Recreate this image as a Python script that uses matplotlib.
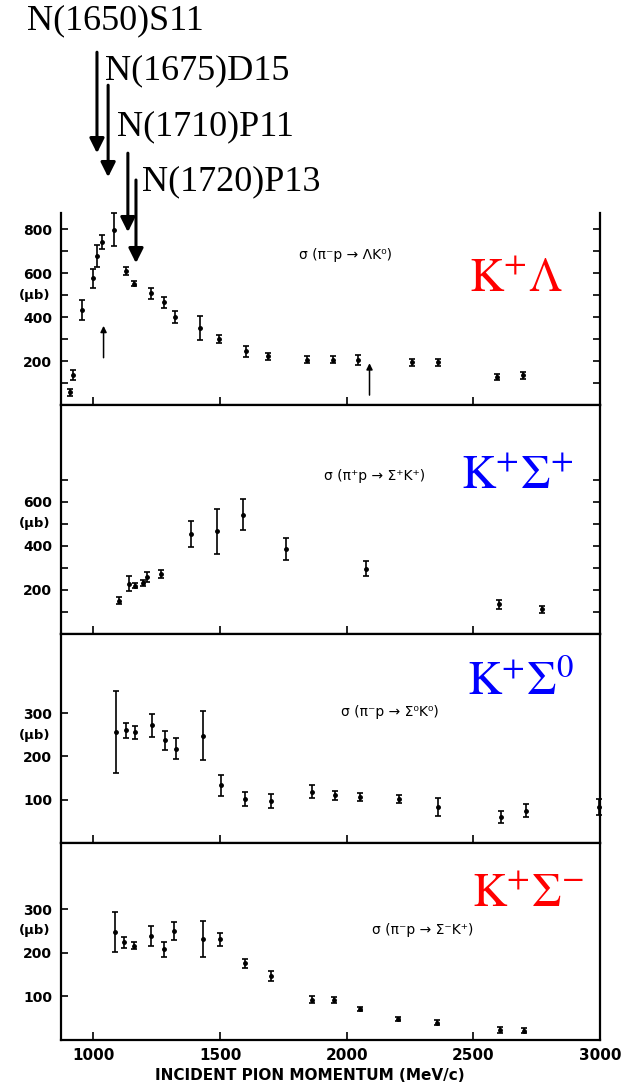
# Kaon photo/pion production cross sections vs incident pion momentum, four stacked panels
import matplotlib.pyplot as plt
import matplotlib.transforms as mtransforms
from matplotlib.ticker import FixedLocator, NullFormatter

# pi- p -> Lambda K0
lam_p = [907, 920, 956, 997, 1016, 1034, 1083, 1127, 1162, 1229, 1278, 1321,
         1422, 1497, 1601, 1691, 1845, 1946, 2045, 2259, 2359, 2592, 2697]
lam_sig = [57, 138, 433, 577, 679, 741, 797, 608, 552, 509, 467, 400,
           350, 300, 244, 221, 206, 206, 206, 194, 194, 127, 135]
lam_err = [17, 23, 45, 43, 50, 30, 75, 19, 11, 25, 26, 26,
           55, 20, 24, 15, 15, 15, 22, 15, 15, 13, 15]

# pi+ p -> Sigma+ K+
sp_p = [1099, 1140, 1164, 1195, 1213, 1268, 1386, 1487, 1590, 1762, 2075, 2601, 2772]
sp_sig = [152, 228, 220, 231, 258, 273, 454, 466, 541, 386, 296, 134, 112]
sp_err = [17, 34, 12, 12, 23, 18, 60, 103, 70, 48, 34, 19, 15]

# pi- p -> Sigma0 K0
s0_p = [1089, 1127, 1164, 1232, 1281, 1326, 1432, 1502, 1600, 1702, 1861, 1952,
        2052, 2206, 2360, 2610, 2706, 2998]
s0_sig = [256, 260, 256, 272, 237, 218, 248, 133, 102, 98, 118, 110,
          106, 102, 83, 60, 75, 83]
s0_err = [95, 18, 15, 26, 21, 25, 56, 24, 16, 16, 15, 10,
          9, 10, 21, 13, 15, 19]

# pi- p -> Sigma- K+
sm_p = [1086, 1119, 1159, 1229, 1278, 1318, 1432, 1500, 1597, 1702, 1861, 1948,
        2052, 2204, 2357, 2606, 2701]
sm_sig = [247, 224, 216, 239, 208, 250, 231, 231, 176, 147, 92, 92,
          71, 48, 40, 23, 21]
sm_err = [46, 13, 8, 23, 18, 20, 41, 15, 10, 12, 8, 7,
          5, 5, 5, 6, 6]

# small threshold arrows in the Lambda panel
mark_p = [1040, 2090]
mark_lo = [215, 45]
mark_hi = [360, 190]

# nucleon resonances marked above the Lambda panel
res_names = ["N(1650)S11", "N(1675)D15", "N(1710)P11", "N(1720)P13"]
res_p = [1014, 1058, 1136, 1168]
res_top = [1604, 1454, 1145, 1023]
res_tip = [1145, 1036, 786, 645]
res_text_p = [738, 1046, 1093, 1192]
res_text_y = [1745, 1518, 1263, 1013]

panels = [
    dict(p=lam_p, s=lam_sig, e=lam_err, ymax=873, major=[200, 400, 600, 800],
         ticks=[100, 200, 300, 400, 500, 600, 700, 800], right=True, mub=500,
         proc="σ (π⁻p → ΛK⁰)", proc_xy=(0.528, 0.78),
         tag=r"$\mathrm{K^{+}\Lambda}$", tag_c="#ff0000", tag_xy=(0.844, 0.656)),
    dict(p=sp_p, s=sp_sig, e=sp_err, ymax=1040, major=[200, 400, 600],
         ticks=[100, 200, 300, 400, 500, 600, 700], right=True, mub=500,
         proc="σ (π⁺p → Σ⁺K⁺)", proc_xy=(0.583, 0.69),
         tag=r"$\mathrm{K^{+}\Sigma^{+}}$", tag_c="#0000ff", tag_xy=(0.848, 0.686)),
    dict(p=s0_p, s=s0_sig, e=s0_err, ymax=483, major=[100, 200, 300],
         ticks=[100, 200, 300], right=False, mub=248,
         proc="σ (π⁻p → Σ⁰K⁰)", proc_xy=(0.611, 0.627),
         tag=r"$\mathrm{K^{+}\Sigma^{0}}$", tag_c="#0000ff", tag_xy=(0.854, 0.77)),
    dict(p=sm_p, s=sm_sig, e=sm_err, ymax=452, major=[100, 200, 300],
         ticks=[100, 200, 300], right=False, mub=252,
         proc="σ (π⁻p → Σ⁻K⁺)", proc_xy=(0.672, 0.556),
         tag=r"$\mathrm{K^{+}\Sigma^{-}}$", tag_c="#ff0000", tag_xy=(0.867, 0.74)),
]

W, H = 639, 1089
panel_px = [(213, 405), (405, 634), (634, 843), (843, 1040)]
x_left, x_right = 60.5, 600

fig = plt.figure(figsize=(W / 100, H / 100), dpi=100)
axes = []
for (top, bot), cfg in zip(panel_px, panels):
    ax = fig.add_axes([x_left / W, 1 - bot / H, (x_right - x_left) / W, (bot - top) / H])
    axes.append(ax)
    ax.errorbar(cfg["p"], cfg["s"], yerr=cfg["e"], fmt="o", color="black",
                ms=2.5, elinewidth=1.2, capsize=2, capthick=1.2, clip_on=False)
    ax.set_xlim(870, 3000)
    ax.set_ylim(0, cfg["ymax"])
    for sp in ax.spines.values():
        sp.set_linewidth(1.6)

    ax.yaxis.set_major_locator(FixedLocator(cfg["major"]))
    ax.yaxis.set_minor_locator(FixedLocator(cfg["ticks"]))
    ax.yaxis.set_minor_formatter(NullFormatter())
    ax.tick_params(axis="y", which="both", direction="in", length=5, width=1.2,
                   right=cfg["right"], labelsize=10, pad=6)
    for lab in ax.get_yticklabels():
        lab.set_fontweight("bold")

    ax.xaxis.set_major_locator(FixedLocator([1000, 1500, 2000, 2500, 3000]))
    ax.tick_params(axis="x", direction="in", length=6, width=1.2, labelsize=11, pad=6)

    trans = mtransforms.blended_transform_factory(ax.transAxes, ax.transData)
    ax.text(-0.018, cfg["mub"], "(μb)", transform=trans, ha="right", va="center",
            fontsize=9.5, fontweight="bold")
    ax.text(*cfg["proc_xy"], cfg["proc"], transform=ax.transAxes, ha="center",
            va="center", fontsize=10)
    ax.text(*cfg["tag_xy"], cfg["tag"], transform=ax.transAxes, ha="center",
            va="center", fontsize=34, color=cfg["tag_c"], math_fontfamily="stix")

for ax in axes[:-1]:
    ax.tick_params(axis="x", labelbottom=False)
axes[-1].tick_params(axis="x", top=False)
for lab in axes[-1].get_xticklabels():
    lab.set_fontweight("bold")

ax1 = axes[0]
ax1.spines["top"].set_visible(False)

# threshold arrows
for p, lo, hi in zip(mark_p, mark_lo, mark_hi):
    ax1.annotate("", xy=(p, hi), xytext=(p, lo),
                 arrowprops=dict(arrowstyle="-|>", color="black", lw=1.1,
                                 mutation_scale=9, shrinkA=0, shrinkB=0))

# resonance arrows and names above the top panel
for name, p, top, tip, tp, ty in zip(res_names, res_p, res_top, res_tip,
                                     res_text_p, res_text_y):
    ax1.annotate("", xy=(p, tip), xytext=(p, top), annotation_clip=False,
                 arrowprops=dict(arrowstyle="-|>", color="black", lw=2.2,
                                 mutation_scale=22, shrinkA=0, shrinkB=0))
    ax1.text(tp, ty, name, ha="left", va="center", fontsize=26,
             family="Liberation Serif", clip_on=False)

fig.text(310 / W, 1 - 1076 / H, "INCIDENT PION MOMENTUM (MeV/c)", ha="center",
         va="center", fontsize=11, fontweight="bold")

fig.savefig("out.png", dpi=100)
